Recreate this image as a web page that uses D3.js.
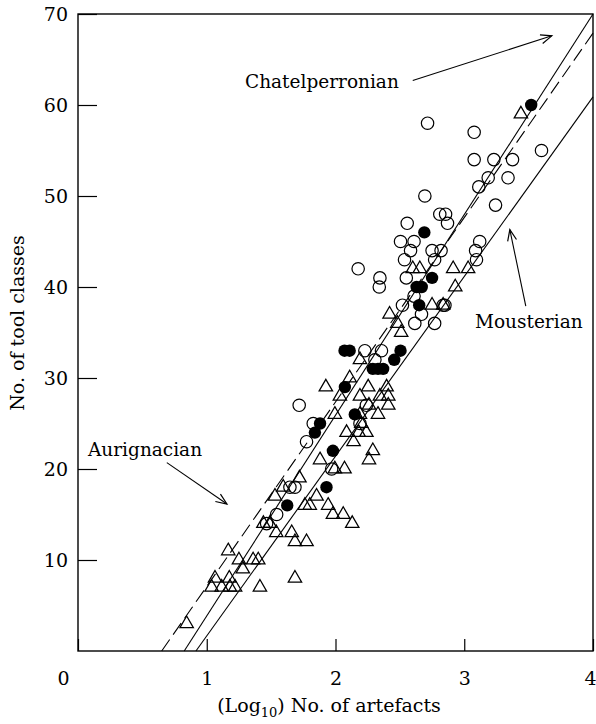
<!DOCTYPE html>
<html>
<head>
<meta charset="utf-8">
<script src="https://cdn.jsdelivr.net/npm/d3@7"></script>
<style>
  body { margin: 0; background: #fff; }
  svg text { font-family: "DejaVu Serif", serif; fill: #000; }
  .tick text { font-size: 19px; }
  .note { font-size: 18.5px; }
  .title { font-size: 19px; }
</style>
</head>
<body>
<div id="chart"></div>
<script>
// open circles (Aurignacian sites)
const openCircles = [
  [2.715, 58], [3.077, 57], [3.60, 55], [3.077, 54], [3.23, 54], [3.375, 54],
  [3.186, 52], [3.34, 52], [3.113, 51], [2.694, 50], [3.243, 49], [2.81, 48],
  [2.855, 48], [2.557, 47], [2.87, 47], [2.505, 45], [2.61, 45], [3.12, 45],
  [2.583, 44], [2.75, 44], [2.82, 44], [3.088, 44], [2.536, 43], [2.77, 43],
  [3.095, 43], [2.176, 42], [2.345, 41], [2.55, 41], [2.34, 40], [2.61, 39],
  [2.52, 38], [2.836, 38], [2.85, 38], [2.668, 37], [2.616, 36], [2.77, 36],
  [2.228, 33], [2.357, 33], [2.306, 32], [1.718, 27], [2.24, 27], [1.827, 25],
  [2.19, 25], [1.775, 23], [1.97, 20], [1.646, 18], [1.685, 18], [1.543, 15],
  [1.465, 14]
];

// filled circles (Chatelperronian sites)
const filledCircles = [
  [3.52, 60], [2.69, 46], [2.75, 41], [2.63, 40], [2.67, 40], [2.65, 38],
  [2.07, 33], [2.11, 33], [2.505, 33], [2.456, 32], [2.29, 31], [2.33, 31],
  [2.37, 31], [2.073, 29], [2.15, 26], [1.88, 25], [1.84, 24], [1.98, 22],
  [1.93, 18], [1.625, 16]
];

// triangles (Mousterian sites)
const triangles = [
  [3.44, 59], [2.914, 42], [3.03, 42], [2.60, 42], [2.655, 42], [2.93, 40],
  [2.75, 38], [2.836, 38], [2.42, 37], [2.48, 36], [2.51, 35], [2.19, 32],
  [2.11, 30], [1.925, 29], [2.254, 29], [2.397, 29], [2.034, 28], [2.19, 28],
  [2.345, 28], [2.41, 28], [2.26, 27], [2.41, 27], [1.995, 26], [2.19, 26],
  [2.33, 26], [2.2, 25], [2.086, 24], [2.18, 24], [2.24, 24], [2.14, 23],
  [2.29, 22], [2.26, 21], [1.88, 21], [1.995, 20], [2.07, 20], [1.72, 19],
  [1.594, 18], [1.53, 17], [1.853, 17], [1.762, 16], [1.80, 16], [1.943, 16],
  [1.98, 15], [2.06, 15], [2.13, 14], [1.44, 14], [1.49, 14], [1.54, 13],
  [1.66, 13], [1.685, 12], [1.775, 12], [1.167, 11], [1.25, 10], [1.36, 10],
  [1.40, 10], [1.28, 9], [1.064, 8], [1.175, 8], [1.685, 8], [1.038, 7],
  [1.116, 7], [1.18, 7], [1.22, 7], [1.413, 7], [0.844, 3]
];

// fitted lines, two end points each
const fitLines = [
  { name: "Aurignacian", dashed: true, pts: [[0.65, 0], [4, 67.9]] },
  { name: "Chatelperronian", dashed: false, pts: [[0.825, 0], [4, 70]] },
  { name: "Mousterian", dashed: false, pts: [[0.916, 0], [4, 60.9]] }
];

const xTicks = [0, 1, 2, 3, 4];
const yTicks = [10, 20, 30, 40, 50, 60, 70];

// label: text, anchor of text, arrow from -> to (data units)
const notes = [
  { text: "Chatelperronian", at: [245, 88], from: [2.60, 62.7], to: [3.68, 67.6] },
  { text: "Aurignacian", at: [88, 456], from: [0.69, 20.7], to: [1.157, 16.15] },
  { text: "Mousterian", at: [475, 328], from: [3.478, 37.9], to: [3.354, 46.3] }
];

const W = 596, H = 724;
const margin = { top: 14, right: 3, bottom: 73, left: 78 };
const width = W - margin.left - margin.right;
const height = H - margin.top - margin.bottom;

const svg = d3.select("#chart").append("svg")
  .attr("width", W).attr("height", H);

svg.append("defs").append("marker")
  .attr("id", "arrow")
  .attr("viewBox", "-12 -6 14 12")
  .attr("refX", 0).attr("refY", 0)
  .attr("markerWidth", 14).attr("markerHeight", 12)
  .attr("markerUnits", "userSpaceOnUse")
  .attr("orient", "auto")
  .append("path")
  .attr("d", "M-11,-4.5 L0,0 L-11,4.5")
  .attr("fill", "none").attr("stroke", "#000").attr("stroke-width", 1.2);

const g = svg.append("g")
  .attr("transform", `translate(${margin.left},${margin.top})`);

const x = d3.scaleLinear().domain([0, 4]).range([0, width]);
const y = d3.scaleLinear().domain([0, 70]).range([height, 0]);

// frame
g.append("rect")
  .attr("width", width).attr("height", height)
  .attr("fill", "none").attr("stroke", "#000").attr("stroke-width", 1.4);

const xAxis = g.append("g")
  .attr("transform", `translate(0,${height})`)
  .call(d3.axisTop(x).tickValues(xTicks).tickSize(12).tickFormat(d3.format("d")));
xAxis.select(".domain").remove();
xAxis.selectAll(".tick line").attr("stroke-width", 1.2);
xAxis.selectAll(".tick text")
  .attr("y", 28).attr("dy", "0.32em")
  .attr("transform", (d) => (d === 0 ? "translate(-15,0)" : d === 4 ? "translate(-3,0)" : null));

const yAxis = g.append("g")
  .call(d3.axisRight(y).tickValues(yTicks).tickSize(19));
yAxis.select(".domain").remove();
yAxis.selectAll(".tick line").attr("stroke-width", 1.2);
yAxis.selectAll(".tick text")
  .attr("x", -10).attr("text-anchor", "end");

// fitted lines
const line = d3.line().x((d) => x(d[0])).y((d) => y(d[1]));
g.append("g").selectAll("path")
  .data(fitLines)
  .join("path")
  .attr("d", (d) => line(d.pts))
  .attr("fill", "none")
  .attr("stroke", "#000")
  .attr("stroke-width", 1.1)
  .attr("stroke-dasharray", (d) => (d.dashed ? "14,6" : null));

// markers
const r = 6.2;
g.append("g").selectAll("path")
  .data(triangles)
  .join("path")
  .attr("d", d3.symbol().type(d3.symbolTriangle).size(78))
  .attr("transform", (d) => `translate(${x(d[0])},${y(d[1])})`)
  .attr("fill", "none")
  .attr("stroke", "#000")
  .attr("stroke-width", 1.25);

g.append("g").selectAll("circle")
  .data(openCircles)
  .join("circle")
  .attr("cx", (d) => x(d[0])).attr("cy", (d) => y(d[1]))
  .attr("r", r)
  .attr("fill", "none")
  .attr("stroke", "#000")
  .attr("stroke-width", 1.2);

g.append("g").selectAll("circle")
  .data(filledCircles)
  .join("circle")
  .attr("cx", (d) => x(d[0])).attr("cy", (d) => y(d[1]))
  .attr("r", r)
  .attr("fill", "#000");

// annotations
notes.forEach((n) => {
  svg.append("text")
    .attr("class", "note")
    .attr("x", n.at[0]).attr("y", n.at[1])
    .text(n.text);
  g.append("line")
    .attr("x1", x(n.from[0])).attr("y1", y(n.from[1]))
    .attr("x2", x(n.to[0])).attr("y2", y(n.to[1]))
    .attr("stroke", "#000").attr("stroke-width", 1.1)
    .attr("marker-end", "url(#arrow)");
});

// axis titles
const xt = svg.append("text")
  .attr("class", "title")
  .attr("x", 329)
  .attr("y", 712)
  .attr("text-anchor", "middle");
xt.append("tspan").text("(Log");
xt.append("tspan").attr("font-size", 13).attr("dy", 5).text("10");
xt.append("tspan").attr("dy", -5).text(")  No. of artefacts");

svg.append("text")
  .attr("class", "title")
  .attr("transform", `translate(24,${323}) rotate(-90)`)
  .attr("text-anchor", "middle")
  .text("No. of tool classes");
</script>
</body>
</html>
